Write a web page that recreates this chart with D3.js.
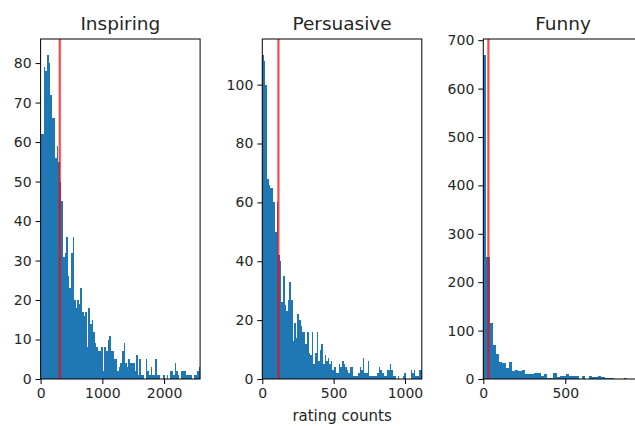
<!DOCTYPE html>
<html>
<head>
<meta charset="utf-8">
<script src="https://cdn.jsdelivr.net/npm/d3@7"></script>
<style>
  body { margin: 0; background: #fff; }
  text { font-family: "DejaVu Sans", sans-serif; fill: #262626; }
</style>
</head>
<body>
<div id="chart"></div>
<script>
// histogram counts, one value per bin
var inspiringCounts = [62,62,79,78,82,80,72,66,66,56, 59,55,50,45,31,32,36,26,23,32,
    36,20,18,20,19,23,17,16,17,8, 18,14,15,12,9,8,7,7,8,2,
    8,7,10,11,7,7,5,5,2,3, 4,7,9,4,3,5,4,4,4,2,
    6,1,5,1,1,0,5,2,1,3, 1,1,5,1,1,0,0,1,0,1,
    0,2,2,1,4,2,1,0,2,2, 2,1,1,1,1,0,1,1,2,3];
var persuasiveCounts = [110,108,100,68,66,65,65,60,50,60, 42,40,26,35,25,23,27,33,27,13,
    19,14,22,20,18,16,16,12,16,9, 8,16,5,9,16,6,10,12,5,8,
    6,7,5,6,3,4,2,2,5,4, 6,5,4,3,2,4,4,1,1,1,
    2,4,3,7,2,2,6,1,1,1, 1,1,2,4,3,2,1,1,3,3,
    5,3,1,1,0,1,0,0,1,2, 0,0,0,3,2,3,1,1,3,3];
var funnyCounts = [669,253,115,71,51,36,33,23,36,17, 19,17,19,10,10,10,13,13,6,10,
    3,3,13,5,6,7,10,7,7,7, 1,7,1,7,5,5,7,4,3,3,
    3,1,0,1,3,0,0,0,1,2];

// upper end of the x range of each panel (rating counts)
var inspiringRange = 2583;
var persuasiveRange = 1118;
var funnyRange = 973;

// red reference lines
var inspiringMean = 310;
var persuasiveMean = 113;
var funnyMean = 31;

var inspiringXTicks = [0, 1000, 2000];
var persuasiveXTicks = [0, 500, 1000];
var funnyXTicks = [0, 500];
var inspiringYTicks = [0, 10, 20, 30, 40, 50, 60, 70, 80];
var persuasiveYTicks = [0, 20, 40, 60, 80, 100];
var funnyYTicks = [0, 100, 200, 300, 400, 500, 600, 700];

var titles = ["Inspiring", "Persuasive", "Funny"];

var WIDTH = 635, HEIGHT = 426;
var TOP = 39, BOTTOM = 379, PANELWIDTH = 159.5;
var panelLefts = [40.6, 262.3, 483.3];

function HistPanel(svg, left, title, counts, range, mean, xticks, yticks){
    this.counts = counts;
    this.range = range;
    this.g = svg.append("g")
        .attr("class", "panel")
        .attr("transform", "translate(" + left + ",0)");

    this.xscale = d3.scaleLinear().domain([0, range]).range([0, PANELWIDTH]);
    // matplotlib pads the top by 5%
    this.yscale = d3.scaleLinear().domain([0, d3.max(counts) * 1.05]).range([BOTTOM, TOP]);

    this.drawBars();
    this.drawMean(mean);
    this.drawAxes(xticks, yticks);

    this.g.append("text")
        .attr("x", PANELWIDTH / 2)
        .attr("y", 30)
        .attr("text-anchor", "middle")
        .style("font-size", "18.5px")
        .text(title);
}

HistPanel.prototype.drawBars = function(){
    var x = this.xscale, y = this.yscale;
    var binWidth = this.range / this.counts.length;
    var bins = this.counts.map(function(c, i){
        return {x0: i * binWidth, x1: (i + 1) * binWidth, count: c};
    });
    this.g.append("g")
        .attr("shape-rendering", "crispEdges")
        .selectAll("rect")
        .data(bins)
        .enter().append("rect")
        .attr("x", function(d){ return x(d.x0); })
        .attr("width", function(d){ return x(d.x1) - x(d.x0); })
        .attr("y", function(d){ return y(d.count); })
        .attr("height", function(d){ return y(0) - y(d.count); })
        .attr("fill", "#1f77b4");
};

HistPanel.prototype.drawMean = function(mean){
    this.g.append("line")
        .attr("x1", this.xscale(mean)).attr("x2", this.xscale(mean))
        .attr("y1", TOP).attr("y2", BOTTOM)
        .attr("stroke", "red")
        .attr("stroke-opacity", 0.72)
        .attr("stroke-width", 2.2);
};

HistPanel.prototype.drawAxes = function(xticks, yticks){
    var xAxis = this.g.append("g")
        .attr("transform", "translate(0," + BOTTOM + ")")
        .call(d3.axisBottom(this.xscale).tickValues(xticks).tickSize(5).tickPadding(4).tickFormat(d3.format("d")));
    var yAxis = this.g.append("g")
        .call(d3.axisLeft(this.yscale).tickValues(yticks).tickSize(5).tickPadding(4).tickFormat(d3.format("d")));
    [xAxis, yAxis].forEach(function(a){
        a.select(".domain").remove();
        a.selectAll("line").attr("stroke", "#000");
        a.selectAll("text").style("font-size", "14px").attr("fill", "#262626").attr("font-family", "DejaVu Sans");
    });

    // spines
    this.g.append("rect")
        .attr("x", 0).attr("y", TOP)
        .attr("width", PANELWIDTH).attr("height", BOTTOM - TOP)
        .attr("fill", "none")
        .attr("stroke", "#000")
        .attr("stroke-width", 1);
};

var svg = d3.select("#chart").append("svg")
    .attr("width", WIDTH)
    .attr("height", HEIGHT);

new HistPanel(svg, panelLefts[0], titles[0], inspiringCounts, inspiringRange, inspiringMean, inspiringXTicks, inspiringYTicks);
new HistPanel(svg, panelLefts[1], titles[1], persuasiveCounts, persuasiveRange, persuasiveMean, persuasiveXTicks, persuasiveYTicks);
new HistPanel(svg, panelLefts[2], titles[2], funnyCounts, funnyRange, funnyMean, funnyXTicks, funnyYTicks);

svg.append("text")
    .attr("x", panelLefts[1] + PANELWIDTH / 2)
    .attr("y", 421)
    .attr("text-anchor", "middle")
    .style("font-size", "15px")
    .text("rating counts");
</script>
</body>
</html>
